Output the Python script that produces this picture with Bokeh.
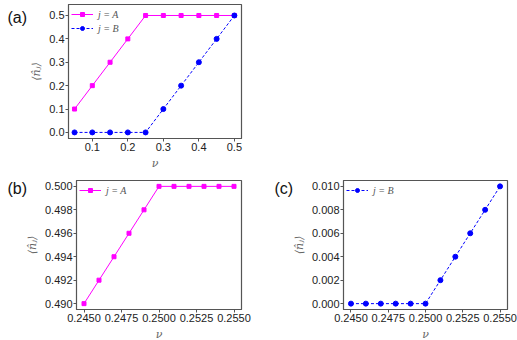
from bokeh.plotting import figure
from bokeh.layouts import column, row
from bokeh.models import Range1d, Label, Legend, LegendItem, FixedTicker
from bokeh.embed import file_html
from bokeh.resources import INLINE

# data
nu_a = [0.05, 0.10, 0.15, 0.20, 0.25, 0.30, 0.35, 0.40, 0.45, 0.50]
nA_a = [0.1, 0.2, 0.3, 0.4, 0.5, 0.5, 0.5, 0.5, 0.5, 0.5]
nB_a = [0.0, 0.0, 0.0, 0.0, 0.0, 0.1, 0.2, 0.3, 0.4, 0.5]

nu_bc = [0.245, 0.246, 0.247, 0.248, 0.249, 0.250, 0.251, 0.252, 0.253, 0.254, 0.255]
nA_b = [0.490, 0.492, 0.494, 0.496, 0.498, 0.500, 0.500, 0.500, 0.500, 0.500, 0.500]
nB_c = [0.000, 0.000, 0.000, 0.000, 0.000, 0.000, 0.002, 0.004, 0.006, 0.008, 0.010]

xt_a = [0.1, 0.2, 0.3, 0.4, 0.5]
yt_a = [0.0, 0.1, 0.2, 0.3, 0.4, 0.5]
xt_bc = [0.245, 0.2475, 0.25, 0.2525, 0.255]
yt_b = [0.490, 0.492, 0.494, 0.496, 0.498, 0.500]
yt_c = [0.000, 0.002, 0.004, 0.006, 0.008, 0.010]

MAG = "#ff00ff"
BLUE = "#0000ff"
YLAB = "\u27e8n\u0302\u2c7c\u27e9"


def style(p, xt, yt, xfmt, yfmt):
    p.outline_line_color = "#555555"
    p.outline_line_width = 1.2
    p.grid.visible = False
    for ax in (p.xaxis[0], p.yaxis[0]):
        ax.axis_line_color = "#555555"
        ax.major_tick_line_color = "#555555"
        ax.minor_tick_line_color = None
        ax.major_tick_out = 3
        ax.major_tick_in = 0
        ax.major_label_text_font = "Liberation Sans"
        ax.major_label_text_font_size = "11px"
        ax.major_label_text_color = "#222222"
        ax.major_label_standoff = 1
        ax.axis_label_text_font = "DejaVu Serif"
        ax.axis_label_text_font_style = "italic"
        ax.axis_label_text_font_size = "11px"
        ax.axis_label_text_color = "#666666"
        ax.axis_label_standoff = 3
    p.xaxis[0].ticker = FixedTicker(ticks=xt)
    p.yaxis[0].ticker = FixedTicker(ticks=yt)
    p.xaxis[0].major_label_overrides = {v: xfmt.format(v) for v in xt}
    p.yaxis[0].major_label_overrides = {v: yfmt.format(v) for v in yt}
    p.xaxis[0].axis_label = "\u03bd"
    p.yaxis[0].axis_label = YLAB


def legend(p, items):
    lg = Legend(items=items, location="top_left", border_line_color=None,
                background_fill_alpha=1.0, label_text_font="Liberation Serif",
                label_text_font_style="italic", label_text_font_size="10px",
                label_text_color="#555555", glyph_width=22, glyph_height=10,
                label_height=14, spacing=0, padding=4, margin=3,
                label_standoff=5)
    p.add_layout(lg)


def panel_label(p, txt, x, y):
    p.add_layout(Label(x=x, y=y, x_units="canvas", y_units="canvas", text=txt,
                       text_font="Liberation Sans", text_font_size="16px",
                       text_color="#111111", text_baseline="top",
                       text_align="left"), "left")


# panel (a)
pa = figure(frame_width=173, frame_height=134, output_backend="svg", toolbar_location=None,
            x_range=Range1d(0.033, 0.52), y_range=Range1d(-0.026, 0.547),
            min_border_left=68, min_border_right=21, min_border_top=4,
            min_border_bottom=33)
la = pa.line(nu_a, nA_a, line_color=MAG, line_width=1)
sa = pa.scatter(nu_a, nA_a, marker="square", size=4, color=MAG)
lb = pa.line(nu_a, nB_a, line_color=BLUE, line_width=1, line_dash="3 2")
sb = pa.scatter(nu_a, nB_a, marker="circle", size=5, color=BLUE)
style(pa, xt_a, yt_a, "{:.1f}", "{:.1f}")
legend(pa, [LegendItem(label="j = A", renderers=[la, sa]),
            LegendItem(label="j = B", renderers=[lb, sb])])
panel_label(pa, "(a)", 7, 8)

# panel (b)
pb = figure(frame_width=165, frame_height=129, output_backend="svg", toolbar_location=None,
            x_range=Range1d(0.2445, 0.2555), y_range=Range1d(0.4895, 0.5005),
            min_border_left=76, min_border_right=19, min_border_top=8,
            min_border_bottom=26)
lb2 = pb.line(nu_bc, nA_b, line_color=MAG, line_width=1)
sb2 = pb.scatter(nu_bc, nA_b, marker="square", size=4, color=MAG)
style(pb, xt_bc, yt_b, "{:.4f}", "{:.3f}")
legend(pb, [LegendItem(label="j = A", renderers=[lb2, sb2])])
panel_label(pb, "(b)", 7, 7)

# panel (c)
pc = figure(frame_width=164, frame_height=129, output_backend="svg", toolbar_location=None,
            x_range=Range1d(0.2445, 0.2555), y_range=Range1d(-0.0005, 0.0105),
            min_border_left=83, min_border_right=10, min_border_top=8,
            min_border_bottom=26)
lc = pc.line(nu_bc, nB_c, line_color=BLUE, line_width=1, line_dash="3 2")
sc = pc.scatter(nu_bc, nB_c, marker="circle", size=5, color=BLUE)
style(pc, xt_bc, yt_c, "{:.4f}", "{:.3f}")
legend(pc, [LegendItem(label="j = B", renderers=[lc, sc])])
panel_label(pc, "(c)", 14, 7)

layout = column(pa, row(pb, pc))
open("out.html", "w").write(file_html(layout, INLINE))
